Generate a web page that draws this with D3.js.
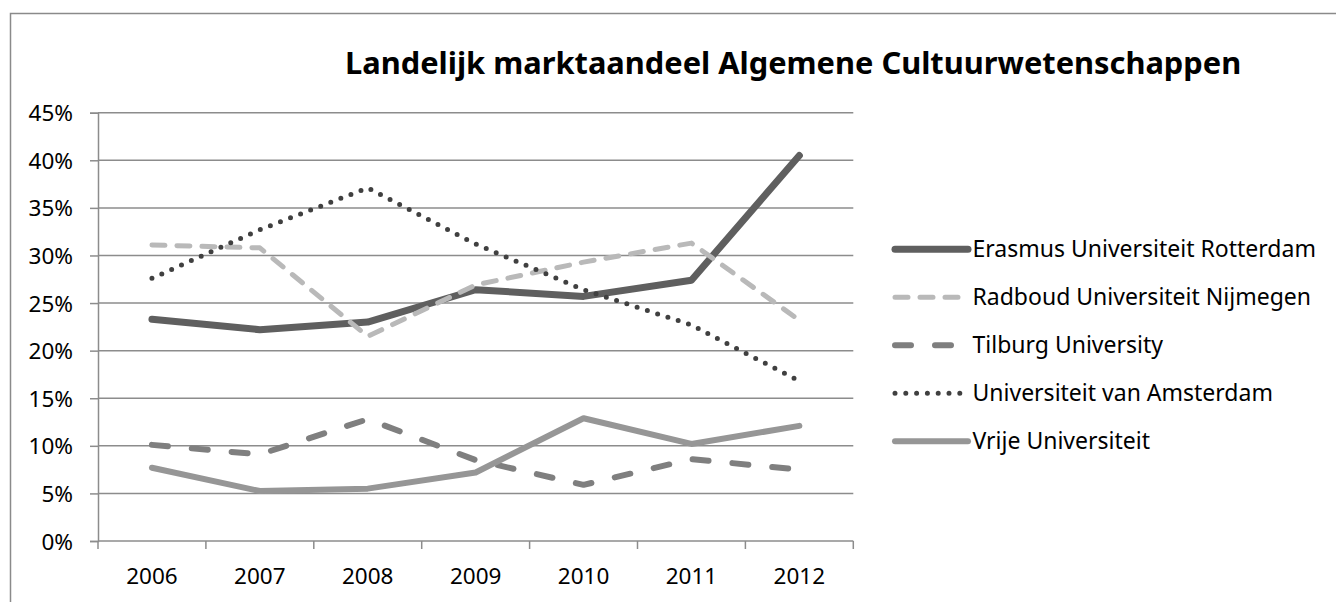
<!DOCTYPE html>
<html>
<head>
<meta charset="UTF-8">
<script src="https://cdn.jsdelivr.net/npm/d3@7"></script>
<style>
  body { margin: 0; background: #fff; }
  text { font-family: "Noto Sans", "Open Sans", sans-serif; fill: #000; }
</style>
</head>
<body>
<svg id="chart" width="1336" height="602"></svg>
<script>
var years = ["2006", "2007", "2008", "2009", "2010", "2011", "2012"];
var seriesNames = ["Erasmus Universiteit Rotterdam", "Radboud Universiteit Nijmegen",
                   "Tilburg University", "Universiteit van Amsterdam", "Vrije Universiteit"];
var erasmus   = [23.3, 22.2, 23.0, 26.4, 25.7, 27.4, 40.5];
var radboud   = [31.1, 30.8, 21.5, 26.9, 29.3, 31.3, 23.2];
var tilburg   = [10.1, 9.1, 12.8, 8.5, 5.9, 8.6, 7.5];
var amsterdam = [27.6, 32.7, 37.1, 31.2, 26.4, 22.7, 16.8];
var vrije     = [7.7, 5.25, 5.5, 7.2, 12.9, 10.2, 12.1];
var yTicks = [0, 5, 10, 15, 20, 25, 30, 35, 40, 45];
var title = "Landelijk marktaandeel Algemene Cultuurwetenschappen";

// line look per series: colour, width, dash
var styles = [
  {color: "#5f5f5f", width: 7, dash: null},
  {color: "#b9b9b9", width: 5, dash: "13,12"},
  {color: "#7f7f7f", width: 6, dash: "16,24"},
  {color: "#404040", width: 5, dash: "0,10.8"},
  {color: "#969696", width: 6, dash: null}
];
var allValues = [erasmus, radboud, tilburg, amsterdam, vrije];

var svg = d3.select("#chart");
var plotLeft = 98, plotRight = 853.3, plotTop = 112.7, plotBottom = 541;

// outer frame (runs off the right and bottom of the picture)
svg.append("rect")
  .attr("x", 10.5).attr("y", 13.5)
  .attr("width", 1400).attr("height", 700)
  .attr("fill", "none").attr("stroke", "#8a8a8a").attr("stroke-width", 1.5);

svg.append("text")
  .attr("x", 345).attr("y", 74)
  .attr("font-size", 30.8).attr("font-weight", "bold")
  .text(title);

var x = d3.scaleBand().domain(years).range([plotLeft, plotRight]);
var y = d3.scaleLinear().domain([0, 45]).range([plotBottom, plotTop]);

// gridlines
svg.append("g").selectAll("line").data(yTicks.filter(function(d){ return d > 0; }))
  .enter().append("line")
  .attr("x1", plotLeft).attr("x2", plotRight)
  .attr("y1", function(d){ return y(d); }).attr("y2", function(d){ return y(d); })
  .attr("stroke", "#8c8c8c").attr("stroke-width", 1.5);

// y axis
var yAxis = svg.append("g").attr("transform", "translate(" + plotLeft + ",0)")
  .call(d3.axisLeft(y).tickValues(yTicks).tickSize(8).tickPadding(17)
    .tickFormat(function(d){ return d + "%"; }));
yAxis.select(".domain").attr("stroke", "#8c8c8c").attr("stroke-width", 1.5);
yAxis.selectAll(".tick line").attr("stroke", "#8c8c8c").attr("stroke-width", 1.5);
yAxis.selectAll(".tick text").attr("font-size", 22.5).attr("font-family", "Noto Sans")
  .attr("fill", "#000").attr("dy", "0.36em");

// x axis: ticks at band edges, labels at band centres
var edges = years.map(function(d){ return x(d); }).concat([plotRight]);
var xg = svg.append("g");
xg.append("line").attr("x1", plotLeft).attr("x2", plotRight).attr("y1", plotBottom).attr("y2", plotBottom)
  .attr("stroke", "#8c8c8c").attr("stroke-width", 1.5);
xg.selectAll("line.tk").data(edges).enter().append("line").attr("class", "tk")
  .attr("x1", function(d){ return d; }).attr("x2", function(d){ return d; })
  .attr("y1", plotBottom).attr("y2", plotBottom + 8)
  .attr("stroke", "#8c8c8c").attr("stroke-width", 1.5);
xg.selectAll("text").data(years).enter().append("text")
  .attr("x", function(d){ return x(d) + x.bandwidth() / 2; })
  .attr("y", 584).attr("text-anchor", "middle").attr("font-size", 22.5)
  .text(function(d){ return d; });

// series lines
var line = d3.line()
  .x(function(d, i){ return x(years[i]) + x.bandwidth() / 2; })
  .y(function(d){ return y(d); });

allValues.forEach(function(vals, i){
  var s = styles[i];
  svg.append("path").datum(vals)
    .attr("d", line)
    .attr("fill", "none")
    .attr("stroke", s.color)
    .attr("stroke-width", s.width)
    .attr("stroke-linecap", "round")
    .attr("stroke-linejoin", "round")
    .attr("stroke-dasharray", s.dash);
});

// legend
var legend = svg.append("g");
seriesNames.forEach(function(name, i){
  var s = styles[i];
  var ly = 249.3 + i * 48;
  var x2 = (s.dash === null) ? 968 : 960;
  legend.append("line")
    .attr("x1", 895).attr("x2", x2).attr("y1", ly).attr("y2", ly)
    .attr("stroke", s.color).attr("stroke-width", s.width)
    .attr("stroke-linecap", "round")
    .attr("stroke-dasharray", s.dash);
  legend.append("text")
    .attr("x", 972.5).attr("y", ly + 8)
    .attr("font-size", 23)
    .text(name);
});
</script>
</body>
</html>
